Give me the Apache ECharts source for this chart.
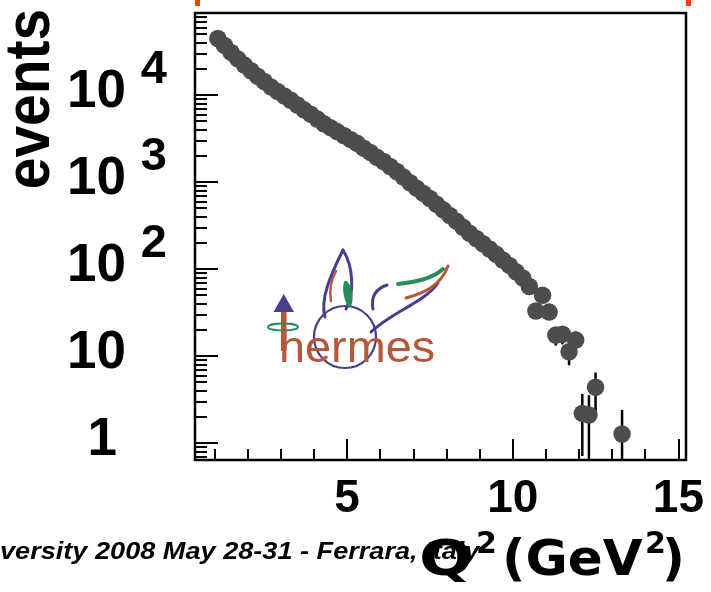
<!DOCTYPE html>
<html>
<head>
<meta charset="utf-8">
<script src="https://cdn.jsdelivr.net/npm/echarts@6/dist/echarts.min.js"></script>
<style>
  html, body { margin: 0; padding: 0; background: #fff; }
  #chart { width: 711px; height: 592px; }
</style>
</head>
<body>
<div id="chart"></div>
<script>
// Q^2 distribution of the selected events (bin centres, GeV^2)
const q2 = [
  1.1, 1.3, 1.5, 1.7, 1.9, 2.1, 2.3, 2.5, 2.7, 2.9,
  3.1, 3.3, 3.5, 3.7, 3.9, 4.1, 4.3, 4.5, 4.7, 4.9,
  5.1, 5.3, 5.5, 5.7, 5.9, 6.1, 6.3, 6.5, 6.7, 6.9,
  7.1, 7.3, 7.5, 7.7, 7.9, 8.1, 8.3, 8.5, 8.7, 8.9,
  9.1, 9.3, 9.5, 9.7, 9.9, 10.1, 10.3, 10.5,
  10.7, 10.9, 11.1, 11.3, 11.5, 11.7, 11.9, 12.1, 12.3, 12.5, 13.3
];
// number of events per bin
const events = [
  44700, 37200, 30900, 26000, 22100, 19000, 16400, 14300, 12400, 11000,
  9770, 8710, 7670, 6760, 6030, 5310, 4680, 4220, 3800, 3430,
  3090, 2790, 2450, 2190, 1930, 1720, 1510, 1320, 1140, 980,
  850, 740, 646, 556, 479, 412, 355, 302, 257, 224,
  195, 170, 148, 127, 110, 93, 79, 63,
  32.9, 50, 32, 17.4, 17.8, 11.2, 15.3, 2.19, 2.1, 4.37, 1.27
];
// statistical uncertainty per bin
const errors = [
  211, 193, 176, 161, 149, 138, 128, 120, 111, 105,
  99, 93, 88, 82, 78, 73, 68, 65, 62, 59,
  56, 53, 49, 47, 44, 41, 39, 36, 34, 31,
  29, 27, 25, 24, 22, 20, 19, 17, 16, 15,
  14, 13, 12, 11, 10.5, 9.6, 8.9, 7.9,
  5.7, 7.1, 5.7, 4.2, 4.2, 3.35, 3.9, 1.48, 1.45, 2.09, 1.13
];

// axis ticks and labels
const xMajorTicks = [5, 10, 15];
const xMinorTicks = [1, 2, 3, 4, 6, 7, 8, 9, 11, 12, 13, 14];
const yMajorTicks = [1, 10, 100, 1000, 10000];
const yLabelBase = ['1', '10', '10', '10', '10'];
const yLabelExp = ['', '', '2', '3', '4'];
const yMinorTicks = [
  0.7, 0.8, 0.9,
  2, 3, 4, 5, 6, 7, 8, 9,
  20, 30, 40, 50, 60, 70, 80, 90,
  200, 300, 400, 500, 600, 700, 800, 900,
  2000, 3000, 4000, 5000, 6000, 7000, 8000, 9000,
  20000, 30000, 40000, 50000, 60000, 70000, 80000
];

const X_MIN = 0.41, X_MAX = 15.23;
const Y_MIN = 0.638, Y_MAX = 87700;

const chart = echarts.init(document.getElementById('chart'), null, { renderer: 'canvas' });

const tickStyle = { color: '#000', width: 2 };
const LABEL_FONT = '"Liberation Sans", Arial, sans-serif';
const TITLE_FONT = '"DejaVu Sans", sans-serif';
const PURPLE = '#4b3c8c', BROWN = '#b5573b', GREEN = '#2a8a5a';

function xAxisDef(values, len, withLabels) {
  return {
    type: 'value', gridIndex: 0, position: 'bottom',
    min: X_MIN, max: X_MAX,
    axisLine: { show: false },
    splitLine: { show: false },
    axisTick: { show: true, inside: true, length: len, lineStyle: tickStyle, customValues: values },
    axisLabel: withLabels ? {
      show: true, customValues: values, margin: 16,
      fontFamily: LABEL_FONT, fontWeight: 'bold', fontSize: 46, color: '#000'
    } : { show: false }
  };
}

function yAxisDef(values, len, withLabels) {
  return {
    type: 'log', logBase: 10, gridIndex: 0, position: 'left',
    min: Y_MIN, max: Y_MAX,
    axisLine: { show: false },
    splitLine: { show: false },
    minorTick: { show: false },
    axisTick: { show: true, inside: true, length: len, lineStyle: tickStyle, customValues: values },
    axisLabel: withLabels ? {
      show: true, customValues: values, margin: 28,
      formatter: function (val) {
        const i = Math.round(Math.log10(val));
        const base = yLabelBase[i], exp = yLabelExp[i];
        if (exp) return '{b|' + base + '}{s|' + exp + '}';
        return '{b|' + base + '}{g' + i + '|}';
      },
      rich: {
        b: { fontFamily: LABEL_FONT, fontWeight: 'bold', fontSize: 53, color: '#000', padding: [0, 0, 6, 0] },
        s: { fontFamily: LABEL_FONT, fontWeight: 'bold', fontSize: 47, color: '#000', padding: [0, 0, 50, 15] },
        g0: { width: 50 },
        g1: { width: 41 }
      }
    } : { show: false }
  };
}

function curve(x1, y1, cpx1, cpy1, cpx2, cpy2, x2, y2, color, width) {
  return {
    type: 'bezierCurve',
    shape: { x1: x1, y1: y1, cpx1: cpx1, cpy1: cpy1, cpx2: cpx2, cpy2: cpy2, x2: x2, y2: y2 },
    style: { fill: 'none', stroke: color, lineWidth: width, lineCap: 'round' }
  };
}

function label(text, x, y, size, extra) {
  return Object.assign({
    type: 'text', x: x, y: y,
    style: {
      text: text, fontFamily: TITLE_FONT, fontWeight: 'bold', fontSize: size,
      fill: '#000', align: 'left', verticalAlign: 'middle'
    }
  }, extra || {});
}

chart.setOption({
  animation: false,
  backgroundColor: '#fff',
  grid: {
    left: 195, top: 13, width: 491, height: 447,
    show: true, borderColor: '#000', borderWidth: 2.5, backgroundColor: 'transparent'
  },
  xAxis: [
    xAxisDef(xMajorTicks, 21, true),
    xAxisDef(xMinorTicks, 11, false)
  ],
  yAxis: [
    yAxisDef(yMajorTicks, 23, true),
    yAxisDef(yMinorTicks, 12, false)
  ],
  series: [
    {
      // vertical error bars
      type: 'custom',
      xAxisIndex: 0, yAxisIndex: 0,
      data: q2.map((x, i) => [x, events[i], errors[i]]),
      encode: { x: 0, y: 1 },
      clip: true,
      z: 2,
      renderItem: function (params, api) {
        const x = api.value(0), v = api.value(1), e = api.value(2);
        const lo = Math.max(v - e, Y_MIN);
        const hi = Math.min(v + e, Y_MAX);
        const p1 = api.coord([x, lo]);
        const p2 = api.coord([x, hi]);
        return {
          type: 'line',
          shape: { x1: p1[0], y1: p1[1], x2: p2[0], y2: p2[1] },
          style: { stroke: '#000', lineWidth: 2.5 }
        };
      }
    },
    {
      type: 'scatter',
      xAxisIndex: 0, yAxisIndex: 0,
      data: q2.map((x, i) => [x, events[i]]),
      symbol: 'circle',
      symbolSize: 17.5,
      itemStyle: { color: '#4d4d4d', opacity: 1 },
      z: 3
    }
  ],
  graphic: [
    // slide frame markers
    { type: 'rect', shape: { x: 195, y: 0, width: 5, height: 6 }, style: { fill: '#ff3d00' } },
    { type: 'rect', shape: { x: 686, y: 0, width: 5, height: 6 }, style: { fill: '#ff3d00' } },
    // y axis title
    {
      type: 'text', x: 32, y: 99, rotation: Math.PI / 2, scaleY: 1.1,
      style: {
        text: 'events', fontFamily: LABEL_FONT, fontWeight: 'bold', fontSize: 57,
        fill: '#000', align: 'center', verticalAlign: 'middle'
      }
    },
    // footer
    {
      type: 'text', x: 0, y: 552,
      style: {
        text: 'versity 2008 May 28-31 - Ferrara, Italy', fontFamily: LABEL_FONT,
        fontWeight: 'bold', fontStyle: 'italic', fontSize: 24, fill: '#000',
        align: 'left', verticalAlign: 'middle'
      },
      scaleX: 1.13
    },
    // x axis title Q^2 (GeV^2)
    label('Q', 419, 562, 50, { scaleX: 1.27 }),
    label('2', 476, 545, 30),
    label('(GeV', 502, 562, 50, { scaleX: 1.03 }),
    label('2', 645, 545, 30),
    label(')', 662, 562, 50),
    // experiment logo
    {
      type: 'group', z: 1,
      children: [
        { type: 'circle', shape: { cx: 345, cy: 337, r: 31 }, style: { fill: 'none', stroke: PURPLE, lineWidth: 2.2 } },
        curve(325, 317, 320, 300, 330, 276, 343, 250, PURPLE, 3),
        curve(343, 250, 353, 266, 355, 292, 346, 309, PURPLE, 3),
        { type: 'polygon', shape: { points: [[345, 281], [352, 291], [350, 307], [344, 296]], smooth: 0.5 }, style: { fill: GREEN } },
        curve(331, 301, 329, 290, 331, 280, 336, 271, BROWN, 2.5),
        curve(373, 309, 371, 298, 375, 289, 387, 285, PURPLE, 3),
        curve(371, 332, 392, 312, 425, 302, 438, 283, PURPLE, 3),
        curve(398, 284, 415, 282, 432, 279, 443, 269, GREEN, 4),
        curve(406, 298, 425, 293, 441, 285, 448, 266, BROWN, 3),
        { type: 'rect', shape: { x: 281, y: 311, width: 5.5, height: 40 }, style: { fill: BROWN } },
        { type: 'polygon', shape: { points: [[283.7, 294], [273.5, 312], [294, 312]] }, style: { fill: PURPLE } },
        { type: 'ellipse', shape: { cx: 283, cy: 327, rx: 15, ry: 3.5 }, style: { fill: 'none', stroke: GREEN, lineWidth: 1.8 } },
        {
          type: 'text', x: 279, y: 350, scaleX: 1.04,
          style: { text: 'hermes', fontFamily: LABEL_FONT, fontSize: 45, fill: BROWN, verticalAlign: 'middle' }
        }
      ]
    }
  ]
});
</script>
</body>
</html>
